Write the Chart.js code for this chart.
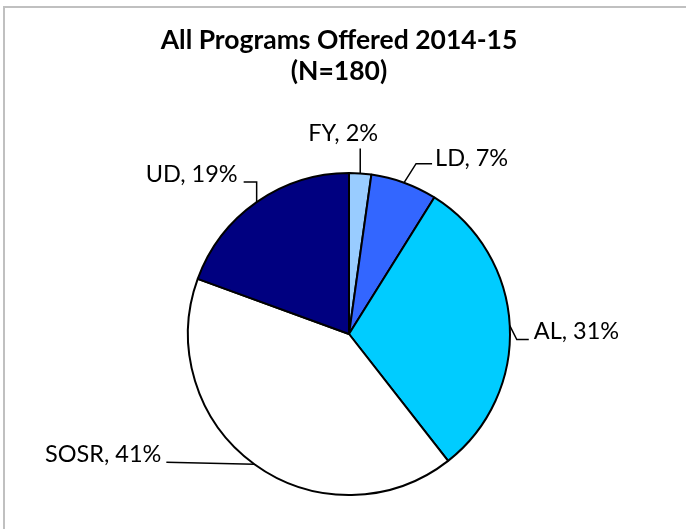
<!DOCTYPE html>
<html lang="en">
<head>
    <meta charset="UTF-8">
    <title>All Programs Offered 2014-15</title>
    <script src="https://cdn.jsdelivr.net/npm/chart.js"></script>
    <style>
        html, body { margin: 0; padding: 0; background: #fff; }
        canvas { display: block; }
    </style>
</head>
<body>
    <canvas id="pieChart" width="686" height="529"></canvas>

    <script>
        // chart data
        const categories = ['FY', 'LD', 'AL', 'SOSR', 'UD'];
        const programCounts = [4, 12, 55, 74, 35]; // N = 180
        const sliceColors = ['#99CCFF', '#3366FF', '#00CCFF', '#FFFFFF', '#000080'];
        const titleLines = ['All Programs Offered 2014-15', '(N=180)'];

        // leader line bends, relative to the slice edge midpoint, plus text offset
        const leaderPaths = [
            { pts: [[0, -25]], text: [-17, -7], align: 'center' },
            { pts: [[12, -19], [28, -19]], text: [3, 2], align: 'left' },
            { pts: [[7, 14], [19, 14]], text: [5, -1], align: 'left' },
            { pts: [[-88, -2]], text: [-5, 0], align: 'right' },
            { pts: [[0, -20], [-13, -20]], text: [-6, 0], align: 'right' }
        ];

        const total = programCounts.reduce((a, b) => a + b, 0);

        const framePlugin = {
            id: 'frame',
            beforeDraw(chart) {
                const ctx = chart.ctx;
                ctx.save();
                ctx.strokeStyle = '#c0c0c0';
                ctx.lineWidth = 2;
                ctx.strokeRect(4, 7, 800, 700);
                ctx.restore();
            }
        };

        const titlePlugin = {
            id: 'twoLineTitle',
            afterDraw(chart) {
                const ctx = chart.ctx;
                ctx.save();
                ctx.fillStyle = '#000';
                ctx.font = 'bold 26.5px Lato';
                ctx.textAlign = 'center';
                ctx.textBaseline = 'alphabetic';
                ctx.fillText(titleLines[0], 339, 49);
                ctx.fillText(titleLines[1], 339, 80);
                ctx.restore();
            }
        };

        const leaderLabels = {
            id: 'leaderLabels',
            afterDatasetsDraw(chart) {
                const ctx = chart.ctx;
                const arcs = chart.getDatasetMeta(0).data;
                ctx.save();
                ctx.strokeStyle = '#000';
                ctx.lineWidth = 1.5;
                ctx.fillStyle = '#000';
                ctx.font = '23.5px Lato';
                ctx.textBaseline = 'alphabetic';
                arcs.forEach((arc, i) => {
                    const p = arc.getProps(['x', 'y', 'startAngle', 'endAngle', 'outerRadius'], true);
                    const mid = (p.startAngle + p.endAngle) / 2;
                    const ex = p.x + p.outerRadius * Math.cos(mid);
                    const ey = p.y + p.outerRadius * Math.sin(mid);
                    const lp = leaderPaths[i];
                    ctx.beginPath();
                    ctx.moveTo(ex, ey);
                    lp.pts.forEach(pt => ctx.lineTo(ex + pt[0], ey + pt[1]));
                    ctx.stroke();
                    const last = lp.pts[lp.pts.length - 1];
                    const pct = Math.round(programCounts[i] / total * 100);
                    ctx.textAlign = lp.align;
                    ctx.fillText(categories[i] + ', ' + pct + '%', ex + last[0] + lp.text[0], ey + last[1] + lp.text[1]);
                });
                ctx.restore();
            }
        };

        new Chart(document.getElementById('pieChart').getContext('2d'), {
            type: 'pie',
            data: {
                labels: categories,
                datasets: [{
                    data: programCounts,
                    backgroundColor: sliceColors,
                    borderColor: '#000',
                    borderWidth: 2
                }]
            },
            options: {
                responsive: false,
                animation: false,
                radius: 161,
                layout: { padding: { left: 12, right: 0, top: 150, bottom: 11 } },
                plugins: {
                    legend: { display: false },
                    title: { display: false },
                    tooltip: { enabled: false }
                }
            },
            plugins: [framePlugin, leaderLabels, titlePlugin]
        });
    </script>
</body>
</html>
